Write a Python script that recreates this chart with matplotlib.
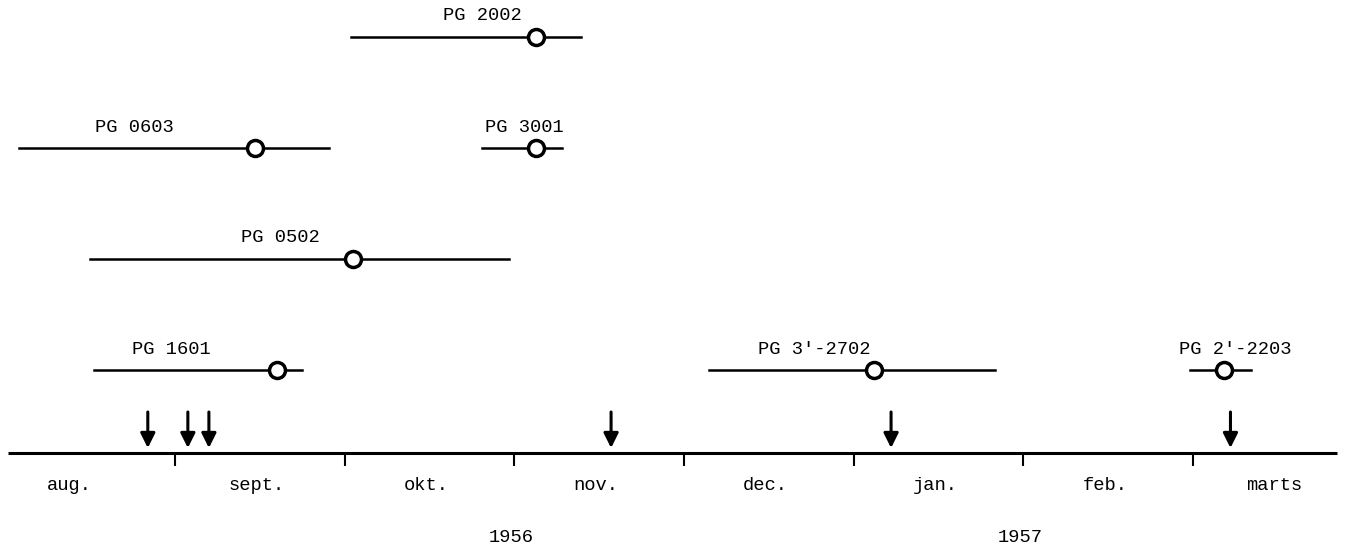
import matplotlib.pyplot as plt

# time axis in months counted from 1 Aug 1956
months = ['aug.', 'sept.', 'okt.', 'nov.', 'dec.', 'jan.', 'feb.', 'marts']
years = ['1956', '1957']
year_x = [2.98, 5.98]

# samples: name, row, start, end, mean (months since 1 Aug 1956)
names = ['PG 2002', 'PG 0603', 'PG 3001', 'PG 0502', 'PG 1601', "PG 3'-2702", "PG 2'-2203"]
rows = [4, 3, 3, 2, 1, 1, 1]
starts = [2.04, 0.08, 2.81, 0.50, 0.52, 4.15, 6.98]
ends = [3.39, 1.91, 3.28, 2.97, 1.75, 5.83, 7.34]
means = [3.13, 1.47, 3.13, 2.05, 1.60, 5.12, 7.18]
label_x = [2.81, 0.76, 3.06, 1.62, 0.98, 4.77, 7.25]

# arrows (events)
arrows = [0.84, 1.076, 1.20, 3.57, 5.22, 7.22]

font = dict(family=['Liberation Mono', 'DejaVu Sans Mono'], fontsize=13.5)

fig = plt.figure(figsize=(13.45, 5.48), dpi=100)
ax = fig.add_axes([0, 0, 1, 1])
ax.set_xlim(-0.031, 7.895)
ax.set_ylim(-95, 453)
ax.axis('off')

# time axis
ax.plot([0.015, 7.85], [0, 0], color='black', lw=2.2, solid_capstyle='butt')
ax.vlines(range(1, len(months)), -13, 0, color='black', lw=1.5)
for i, m in enumerate(months):
    ax.text(i + 0.48 if i > 0 else 0.38, -33, m, ha='center', va='center', **font)
for x, yr in zip(year_x, years):
    ax.text(x, -84, yr, ha='center', va='center', **font)

# arrows
for x in arrows:
    ax.annotate('', xy=(x, 5), xytext=(x, 41),
                arrowprops=dict(arrowstyle='-|>', lw=2.2, color='black',
                                mutation_scale=22, shrinkA=0, shrinkB=0))

# sample ranges
for name, r, s, e, m, lx in zip(names, rows, starts, ends, means, label_x):
    y = 83 + (r - 1) * 111
    ax.plot([s, e], [y, y], color='black', lw=1.8)
    ax.plot(m, y, 'o', ms=11.5, mfc='white', mec='black', mew=2.5)
    ax.text(lx, y + 21, name, ha='center', va='center', **font)

fig.savefig('out.png', dpi=100, facecolor='white')
